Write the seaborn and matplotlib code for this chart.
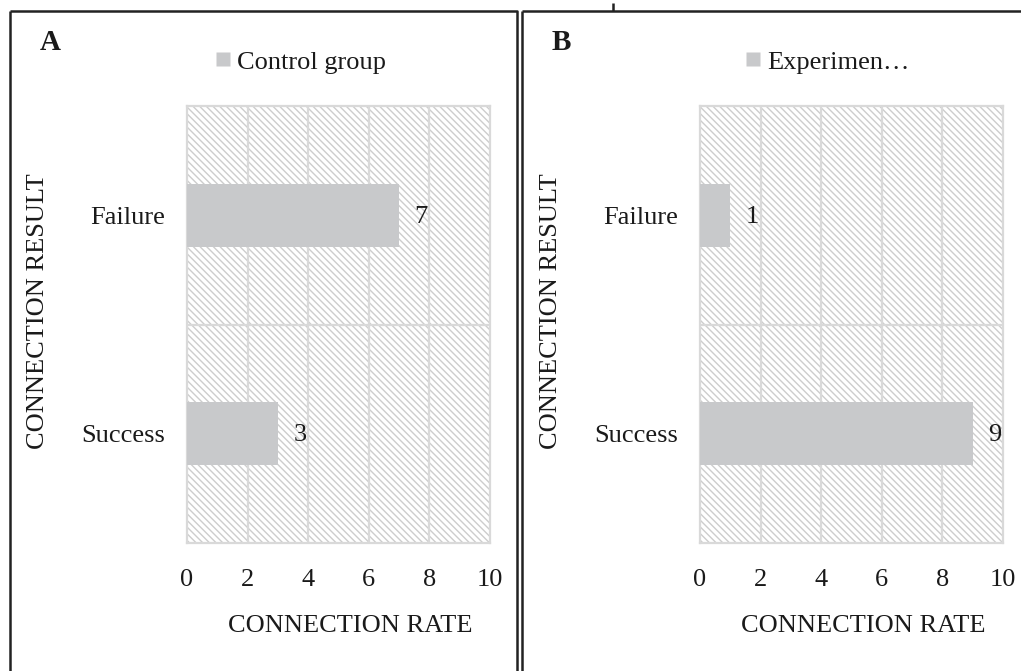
import matplotlib
matplotlib.use("Agg")
import matplotlib.pyplot as plt
from matplotlib.patches import Rectangle
from matplotlib.lines import Line2D
import seaborn as sns
import pandas as pd

# Data
categories = ["Failure", "Success"]
control_values = [7, 3]
experiment_values = [1, 9]
x_ticks = [0, 2, 4, 6, 8, 10]
panel_letters = ["A", "B"]
legend_labels = ["Control group", "Experimen\u2026"]
x_title = "CONNECTION RATE"
y_title = "CONNECTION RESULT"

sns.set_theme(style="white")
plt.rcParams["font.family"] = ["Liberation Serif", "DejaVu Serif"]
plt.rcParams["hatch.color"] = "#cdcdcd"
plt.rcParams["hatch.linewidth"] = 1.0

W, H = 1021, 671
fig = plt.figure(figsize=(W / 100, H / 100), dpi=100)
fig.patch.set_facecolor("white")

bar_color = "#c8c9cb"
grid_color = "#d9d9d9"
text_color = "#1a1a1a"
FS = 19


def px_axes(x0, y0, x1, y1):
    return fig.add_axes([x0 / W, 1 - y1 / H, (x1 - x0) / W, (y1 - y0) / H])


def draw_panel(ax, values, legend_label, letter, box_x, legend_x):
    df = pd.DataFrame({"result": categories, "rate": values})
    # hatched background of the plot area
    ax.add_patch(Rectangle((0, 0), 1, 1, transform=ax.transAxes,
                           facecolor="white", edgecolor="#cdcdcd",
                           hatch="\\" * 5, linewidth=0, zorder=0))
    sns.barplot(data=df, x="rate", y="result", order=categories,
                color=bar_color, width=0.29, saturation=1,
                edgecolor="none", ax=ax, zorder=3)
    ax.set_xlim(0, 10)
    ax.set_ylim(1.5, -0.5)
    ax.set_xticks(x_ticks)
    ax.set_xticklabels([str(t) for t in x_ticks])
    for xv in x_ticks[1:-1]:
        ax.axvline(xv, color=grid_color, lw=1.6, zorder=1)
    ax.axhline(0.5, color=grid_color, lw=1.6, zorder=1)
    for s in ax.spines.values():
        s.set_visible(True)
        s.set_color(grid_color)
        s.set_linewidth(1.6)
    ax.tick_params(axis="both", length=0, labelsize=FS, colors=text_color)
    ax.tick_params(axis="y", pad=16)
    ax.tick_params(axis="x", pad=19)
    ax.set_xlabel(x_title, fontsize=FS, color=text_color)
    ax.set_ylabel(y_title, fontsize=FS, color=text_color)
    ax.xaxis.set_label_coords(0.54, -0.165)
    ax.yaxis.set_label_coords(-0.455, 0.53)
    for cat, v in zip(categories, values):
        ax.annotate(str(v), xy=(v, categories.index(cat)), xytext=(16, -1),
                    textcoords="offset points", ha="center", va="center",
                    fontsize=FS, color=text_color, zorder=4)
    # legend entry above the plot area
    handle = Line2D([], [], marker="s", linestyle="none", markersize=10,
                    markerfacecolor=bar_color, markeredgecolor="none")
    ax.legend([handle], [legend_label], loc="lower center",
              bbox_to_anchor=(legend_x, 1.02), frameon=False, fontsize=FS,
              handlelength=0.6, handletextpad=0.25, labelcolor=text_color)
    fig.text((box_x + 30) / W, 1 - 42 / H, letter, fontsize=21,
             fontweight="bold", color=text_color, va="center", ha="left")


ax_a = px_axes(187, 106, 490, 543)
ax_b = px_axes(700, 106, 1003, 543)
draw_panel(ax_a, control_values, legend_labels[0], panel_letters[0], 10, 0.374)
draw_panel(ax_b, experiment_values, legend_labels[1], panel_letters[1], 522, 0.42)

# panel frames
frame_kw = dict(color="#222222", lw=1.8, transform=fig.transFigure,
                solid_capstyle="butt")


def fig_line(xs, ys):
    fig.add_artist(Line2D([x / W for x in xs], [1 - y / H for y in ys],
                          **frame_kw))


fig_line([10, 517, 517], [11, 11, H + 5])
fig_line([10, 10], [11, H + 5])
fig_line([522, 522], [H + 5, 11])
fig_line([522, W + 5], [11, 11])
fig_line([613, 613], [3, 11])

fig.savefig("out.png", dpi=100, facecolor="white")
